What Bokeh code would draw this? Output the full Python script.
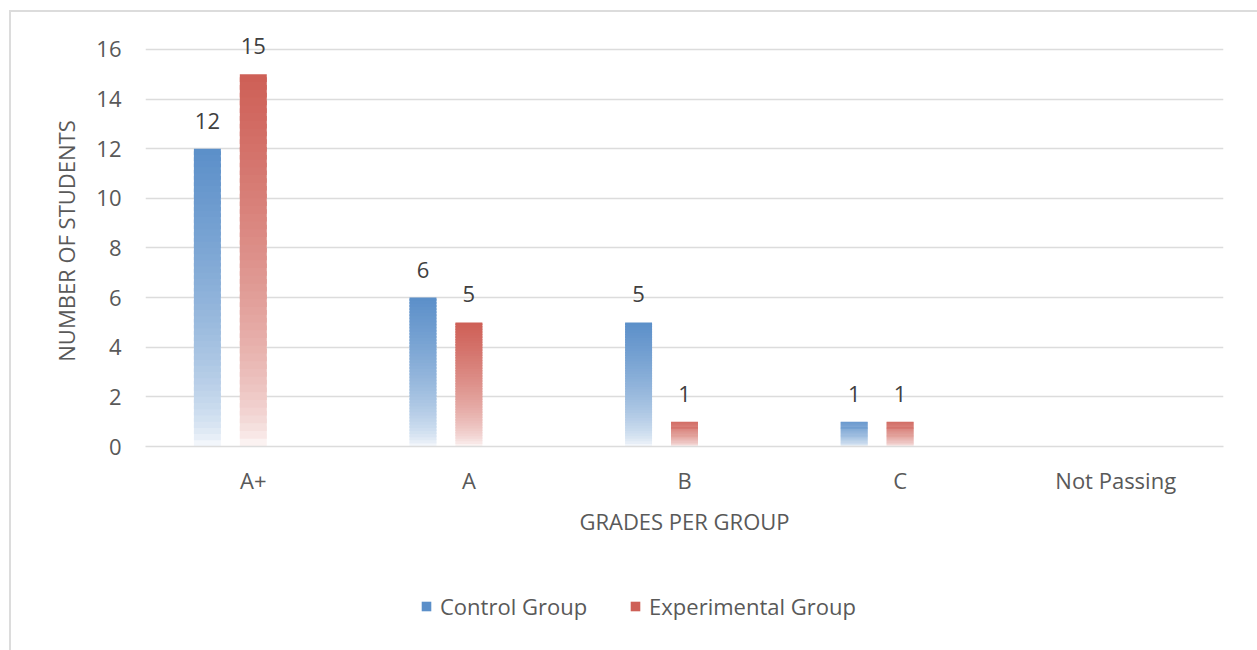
from bokeh.plotting import figure
from bokeh.layouts import column
from bokeh.core.properties import value
from bokeh.models import (ColumnDataSource, FactorRange, Range1d, Legend, LegendItem,
                          LabelSet, FixedTicker, GlobalInlineStyleSheet)
from bokeh.transform import dodge
from bokeh.embed import file_html
from bokeh.resources import INLINE

# ---- data -------------------------------------------------------------
grades = ["A+", "A", "B", "C", "Not Passing"]
control = [12, 6, 5, 1, None]
experimental = [15, 5, 1, 1, None]
y_ticks = [0, 2, 4, 6, 8, 10, 12, 14, 16]

# ---- styling ----------------------------------------------------------
CONTROL_COLOR = "#5B8FC9"
EXPERIMENTAL_COLOR = "#CE5F56"
TEXT = "#595959"
GRID = "#DCDCDC"
FONT = "Open Sans"
FS = "22px"
N_SLICES = 48
BAR_W = 0.125
OFFSETS = {"control": -0.213, "experimental": 0.0}
Y_TOP = 16.56  # a little head room above 16 for the value labels
WIDTH = 1246
NAN = float("nan")


def _rgb(h):
    h = h.lstrip("#")
    return tuple(int(h[i:i + 2], 16) for i in (0, 2, 4))


def gradient_source(values, base):
    """Split every bar into stacked slices that fade from the base colour
    at the top to almost white at the baseline."""
    r0, g0, b0 = _rgb(base)
    cols = dict(grade=[], bottom=[], top=[], color=[])
    for g, v in zip(grades, values):
        if not v:
            continue
        step = v / N_SLICES
        for k in range(N_SLICES):
            a = max(0.04, ((k + 0.5) / N_SLICES) ** 0.55)
            c = tuple(round(255 + (x - 255) * a) for x in (r0, g0, b0))
            cols["grade"].append(g)
            cols["bottom"].append(k * step)
            # slight overlap with the next slice hides seams between slices
            cols["top"].append(min(v, (k + 1.6) * step))
            cols["color"].append("#%02x%02x%02x" % c)
    return ColumnDataSource(cols)


def label_source(values):
    gs = [g for g, v in zip(grades, values) if v]
    vs = [v for v in values if v]
    return ColumnDataSource(dict(grade=gs, value=vs, text=[str(v) for v in vs]))


# ---- main chart ---------------------------------------------------------
p = figure(
    x_range=FactorRange(*grades),
    y_range=Range1d(0, Y_TOP),
    width=WIDTH, height=548,
    output_backend="svg", toolbar_location=None,
    min_border_left=134, min_border_right=34,
    min_border_top=23, min_border_bottom=114,
)
p.outline_line_color = None
p.background_fill_color = "white"
p.border_fill_color = "white"

# grid
p.xgrid.grid_line_color = None
p.ygrid.grid_line_color = GRID
p.ygrid.grid_line_width = 1.5
p.ygrid.ticker = FixedTicker(ticks=y_ticks)

# y axis
p.yaxis.ticker = FixedTicker(ticks=y_ticks)
p.yaxis.axis_line_color = None
p.yaxis.major_tick_line_color = None
p.yaxis.minor_tick_line_color = None
p.yaxis.major_label_standoff = 18
p.yaxis.axis_label = "NUMBER OF STUDENTS"
p.yaxis.axis_label_standoff = 12

# x axis
p.xaxis.axis_line_color = GRID
p.xaxis.axis_line_width = 1.5
p.xaxis.major_tick_line_color = None
p.xaxis.minor_tick_line_color = None
p.xaxis.major_label_standoff = 12
p.xaxis.axis_label = "GRADES PER GROUP"
p.xaxis.axis_label_standoff = 8

for ax in (p.xaxis[0], p.yaxis[0]):
    ax.major_label_text_font = FONT
    ax.major_label_text_font_size = FS
    ax.major_label_text_color = TEXT
    ax.axis_label_text_font = FONT
    ax.axis_label_text_font_size = FS
    ax.axis_label_text_color = TEXT
    ax.axis_label_text_font_style = "normal"

for key, vals, color in (("control", control, CONTROL_COLOR),
                         ("experimental", experimental, EXPERIMENTAL_COLOR)):
    src = gradient_source(vals, color)
    xpos = dodge("grade", OFFSETS[key], range=p.x_range)
    p.vbar(x=xpos, bottom="bottom", top="top", width=BAR_W,
           source=src, fill_color="color", line_color=None)
    labels = LabelSet(x=dodge("grade", OFFSETS[key], range=p.x_range), y="value",
                      text="text", source=label_source(vals),
                      text_align="center", text_baseline="alphabetic", y_offset=20,
                      text_font=value(FONT), text_font_size=value(FS),
                      text_color="#404040")
    p.add_layout(labels)

# ---- legend strip under the chart --------------------------------------
lg = figure(
    x_range=Range1d(0, 1), y_range=Range1d(0, 1),
    width=WIDTH, height=90,
    output_backend="svg", toolbar_location=None,
    x_axis_type=None, y_axis_type=None, min_border=0,
)
lg.outline_line_color = None
lg.grid.visible = False
lg.background_fill_color = "white"
lg.border_fill_color = "white"
# swatch renderers only feed the legend; their single NaN row draws nothing
swatch_c = lg.vbar(x=[NAN], top=[NAN], width=0.1, fill_color=CONTROL_COLOR, line_color=None)
swatch_e = lg.vbar(x=[NAN], top=[NAN], width=0.1, fill_color=EXPERIMENTAL_COLOR, line_color=None)
legend = Legend(
    items=[LegendItem(label="Control Group", renderers=[swatch_c]),
           LegendItem(label="Experimental Group", renderers=[swatch_e])],
    orientation="horizontal", location=(275, 29),
    glyph_width=12, glyph_height=12, label_standoff=8, spacing=42,
    padding=0, margin=0,
    label_text_font=FONT, label_text_font_size=FS, label_text_color=TEXT,
    border_line_color=None, background_fill_alpha=0,
)
lg.add_layout(legend)

layout = column(p, lg, spacing=0)
layout.stylesheets = [GlobalInlineStyleSheet(css="html, body { margin: 0; padding: 0; overflow: hidden; }")]
layout.styles = {
    "margin-left": "9px", "margin-top": "10px",
    "border-left": "2px solid #DCDCDC", "border-top": "2px solid #DCDCDC",
}

open("out.html", "w").write(file_html(layout, INLINE))
